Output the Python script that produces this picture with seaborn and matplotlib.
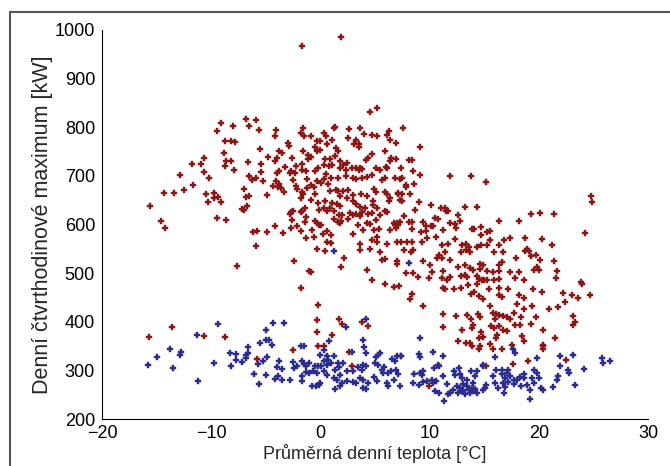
import matplotlib
matplotlib.use("Agg")
import matplotlib.pyplot as plt
from matplotlib.lines import Line2D
import pandas as pd
import seaborn as sns

# red group: (mean daily temperature [°C], daily quarter-hour maximum [kW])
red_left = [
    (-15.6, 638), (-14.6, 607), (-14.2, 593), (-14.3, 664), (-13.4, 664), (-12.5, 671), (-12.9, 702),
    (-11.7, 682), (-11.8, 724), (-10.7, 737), (-10.9, 724), (-10.7, 708), (-10.2, 696), (-10.5, 662),
    (-10.3, 646), (-9.7, 664), (-9.4, 656), (-9.7, 655), (-9.1, 646), (-9.5, 613), (-8.6, 609),
    (-9.5, 792), (-9.1, 808), (-8.0, 803), (-8.8, 747), (-8.7, 772), (-8.2, 772), (-7.8, 770),
    (-8.6, 730), (-8.2, 730), (-8.7, 721), (-7.9, 713), (-7.6, 515), (-6.8, 817), (-6.5, 803),
    (-5.9, 815), (-5.6, 795), (-6.6, 729), (-5.5, 755), (-5.4, 725), (-6.5, 699), (-6.3, 692),
    (-5.9, 696), (-5.4, 708), (-5.3, 690), (-7.0, 674), (-6.8, 657), (-6.5, 659), (-7.2, 632),
    (-7.0, 630), (-6.7, 638), (-6.2, 585), (-5.8, 587), (-5.9, 556), (-4.9, 585), (-4.2, 597),
    (-3.4, 583), (-4.9, 661), (-4.2, 783), (-4.1, 795), (-3.0, 768), (-2.9, 761), (-3.8, 751),
    (-3.5, 748), (-4.0, 736), (-4.2, 730), (-4.8, 739), (-2.6, 737), (-3.2, 719), (-4.0, 706),
    (-3.8, 710), (-2.8, 706), (-2.7, 710), (-2.3, 706), (-1.7, 713), (-2.2, 721), (-1.7, 724),
    (-1.6, 799), (-1.8, 788), (-1.5, 783), (-1.6, 751), (-1.1, 742), (-1.1, 734), (-1.3, 710),
    (-4.1, 689), (-4.3, 679), (-3.9, 677), (-3.6, 675), (-3.8, 684), (-3.3, 667), (-2.5, 692),
    (-2.2, 679), (-2.1, 672), (-1.7, 667), (-1.6, 662), (-1.8, 654), (-1.2, 693), (-1.2, 675),
    (-2.7, 626), (-2.8, 621), (-2.5, 628), (-1.8, 626), (-1.7, 628), (-1.4, 634), (-1.3, 616),
    (-1.4, 605), (-2.6, 609), (-2.7, 593), (-2.1, 596), (-1.8, 586), (-1.3, 573), (-1.8, 470),
    (-2.4, 524), (-1.0, 504), (-1.7, 968),
    (-15.7, 369), (-13.6, 389), (-10.7, 371), (-8.7, 369), (-5.8, 324), (-2.5, 341),
    (-0.2, 350), (-0.3, 379), (-0.3, 403), (-0.2, 434),
]
red_core = [
    (1.9, 986), (4.5, 831), (5.2, 839), (-0.9, 781), (0.3, 788), (0.5, 781), (1.2, 799), (1.3, 801),
    (2.6, 796), (3.6, 798), (4.0, 786), (4.7, 785), (5.2, 783), (6.1, 784), (6.3, 792), (6.4, 774),
    (6.9, 768), (-0.3, 771), (0.0, 772), (-0.5, 759), (-0.3, 751), (0.0, 753), (0.6, 765), (1.1, 773),
    (1.4, 757), (1.6, 752), (2.5, 777), (3.3, 774), (3.5, 765), (3.5, 759), (3.1, 765), (5.9, 752),
    (-0.9, 739), (0.4, 735), (0.9, 734), (1.3, 741), (0.8, 720), (1.1, 723), (0.3, 723), (-0.2, 717),
    (-0.5, 710), (1.8, 730), (2.1, 723), (2.4, 727), (1.8, 717), (2.3, 713), (2.9, 716), (3.3, 717),
    (3.6, 717), (3.8, 715), (3.5, 713), (4.2, 733), (4.4, 736), (4.7, 745), (5.1, 717), (4.3, 697),
    (3.8, 696), (3.3, 694), (3.0, 696), (2.3, 699), (1.6, 696), (1.0, 696), (0.5, 703), (0.3, 693),
    (-0.3, 689), (0.1, 686), (-0.9, 682), (4.7, 702), (5.6, 692), (5.9, 695), (5.5, 713), (6.0, 719),
    (6.1, 717), (6.5, 737), (6.9, 735), (6.4, 730), (6.8, 696), (7.3, 693), (-0.6, 677), (0.7, 684),
    (0.9, 668), (1.4, 670), (1.6, 668), (2.1, 668), (2.5, 670), (1.8, 658), (2.4, 655), (3.0, 660),
    (3.7, 662), (4.3, 659), (4.9, 672), (5.1, 667), (5.9, 667), (6.1, 662), (6.4, 655), (7.1, 665),
    (7.1, 662), (7.3, 651), (-0.5, 662), (-0.9, 651), (-0.2, 644), (0.4, 648), (1.1, 644), (1.5, 642),
    (1.8, 639), (3.0, 648), (3.3, 642), (3.6, 637), (4.1, 634), (4.8, 649), (4.8, 641), (5.2, 633),
    (5.9, 627), (6.1, 625), (6.3, 648), (-0.1, 630), (0.3, 633), (0.6, 627), (0.9, 633), (1.2, 628),
    (1.7, 620), (2.0, 620), (2.7, 624), (3.0, 620), (3.3, 622), (3.6, 617), (3.8, 626), (4.4, 622),
    (4.7, 624), (5.5, 620), (-0.5, 608), (-0.3, 603), (-0.1, 598), (0.1, 600), (1.2, 612), (1.6, 606),
    (1.8, 603), (1.9, 608), (2.5, 611), (3.4, 600), (4.3, 603), (4.5, 601), (5.1, 610), (6.7, 603),
    (6.8, 598), (7.0, 603), (7.1, 600), (6.9, 593), (7.3, 606), (-0.8, 588), (0.2, 580), (0.6, 586),
    (1.0, 578), (3.0, 581), (3.9, 588), (4.9, 588), (5.4, 590), (6.4, 588), (-0.6, 574), (0.6, 565),
    (1.0, 561), (4.7, 568), (5.2, 574), (5.2, 564), (3.6, 559), (6.1, 559), (7.0, 564), (-0.3, 549),
    (0.4, 545), (3.6, 547), (4.5, 549), (5.5, 544), (2.2, 532), (5.6, 528), (5.9, 530), (7.0, 524),
    (7.0, 519), (-0.9, 503), (1.9, 512), (4.3, 507), (4.7, 485), (5.9, 477), (6.7, 471), (7.2, 473),
    (7.6, 799), (9.1, 760),
    (1.7, 405), (2.0, 396), (3.8, 400), (4.4, 391), (1.1, 372), (0.3, 350), (2.6, 337), (2.9, 310),
]
red_right = [
    (8.1, 732), (8.4, 732), (7.4, 717), (8.5, 711), (9.1, 702), (11.9, 699), (13.8, 699), (15.2, 688),
    (7.5, 696), (7.8, 682), (7.8, 677), (8.6, 684), (7.5, 663), (8.2, 662), (7.5, 649), (9.0, 646),
    (10.1, 640), (11.0, 633), (11.4, 634), (11.5, 627), (11.7, 627), (12.6, 620), (13.2, 637), (14.3, 637),
    (8.7, 629), (7.7, 618), (8.1, 606), (8.4, 606), (9.4, 606), (10.5, 613), (10.3, 597), (10.8, 612),
    (11.9, 603), (12.3, 601), (12.8, 607), (9.7, 597), (10.1, 597), (8.4, 590), (9.2, 585), (9.7, 587),
    (11.2, 588), (12.4, 592), (13.9, 590), (14.1, 590), (14.7, 595), (14.7, 578), (15.3, 585), (15.5, 587),
    (16.4, 608), (18.2, 608), (19.3, 622), (20.1, 624), (21.4, 622), (24.2, 583), (24.8, 659), (24.9, 646),
    (7.4, 564), (7.9, 564), (8.4, 565), (9.3, 565), (7.7, 548), (8.3, 544), (8.5, 547), (9.8, 572),
    (10.6, 574), (11.1, 557), (11.7, 559), (12.3, 570), (13.0, 557), (13.3, 560), (13.6, 554), (14.3, 554),
    (14.7, 557), (12.9, 543), (13.3, 547), (13.7, 544), (15.5, 568), (15.3, 557), (15.9, 543), (16.4, 557),
    (16.7, 543), (16.8, 568), (17.4, 572), (18.7, 572), (18.9, 550), (18.7, 545), (19.1, 545), (19.3, 535),
    (19.7, 537), (20.1, 526), (20.3, 570), (21.2, 557), (21.4, 524), (17.9, 531), (10.9, 537), (11.1, 531),
    (10.7, 531), (11.4, 544), (11.9, 526), (12.6, 512), (13.2, 516), (13.7, 510), (14.0, 506), (14.6, 519),
    (14.6, 509), (14.9, 516), (15.3, 504), (15.8, 502), (16.4, 504), (16.6, 523), (16.4, 516), (17.4, 502),
    (17.8, 490), (18.2, 502), (18.6, 485), (19.6, 506), (19.8, 512), (20.0, 506), (21.7, 504), (21.6, 490),
    (7.8, 500), (8.5, 501), (8.9, 493), (9.9, 490), (10.0, 516), (9.4, 524), (10.2, 502), (11.2, 504),
    (11.9, 492), (11.6, 485), (11.1, 490), (13.2, 497), (13.4, 492), (12.9, 495), (14.3, 495), (14.5, 488),
    (14.3, 478), (14.8, 486), (15.0, 485), (15.3, 486), (15.9, 485), (16.4, 488), (11.2, 469), (11.4, 468),
    (12.2, 468), (12.9, 469), (13.5, 476), (13.8, 457), (14.1, 461), (14.5, 452), (14.9, 446), (15.4, 468),
    (16.4, 469), (16.4, 454), (17.2, 468), (18.2, 454), (18.6, 448), (19.5, 468), (20.3, 462), (22.2, 459),
    (23.0, 455), (23.6, 449), (23.9, 481), (24.0, 478), (24.7, 454), (8.4, 457), (8.2, 447), (9.4, 433),
    (11.2, 415), (11.2, 390), (12.4, 411), (13.0, 383), (13.4, 413), (13.8, 406), (14.0, 394), (13.9, 388),
    (14.4, 415), (14.6, 409), (14.7, 379), (14.5, 367), (14.9, 368), (15.5, 432), (15.8, 419), (16.1, 416),
    (16.4, 413), (16.7, 411), (17.1, 409), (17.4, 406), (16.0, 406), (15.6, 391), (15.9, 388), (16.4, 391),
    (16.7, 384), (17.1, 381), (16.2, 372), (16.1, 367), (16.6, 450), (17.7, 419), (18.0, 437), (17.8, 394),
    (18.3, 394), (18.4, 409), (18.6, 426), (19.4, 433), (19.3, 396), (19.7, 410), (20.4, 384), (20.9, 426),
    (21.5, 367), (21.8, 430), (22.4, 440), (23.1, 411), (23.3, 399), (23.1, 394), (12.6, 361), (13.3, 357),
    (13.7, 357), (13.9, 350), (14.6, 351), (14.5, 343), (15.5, 355), (15.8, 343), (16.6, 343), (17.5, 353),
    (18.5, 370), (18.6, 360), (20.4, 350), (20.4, 353), (20.4, 343),
    (9.9, 268), (15.2, 308), (17.6, 314), (19.0, 319), (22.5, 321),
]

# blue group
blue_left = [
    (-15.8, 312), (-15.0, 328), (-13.8, 344), (-13.5, 304), (-12.9, 331), (-12.8, 337), (-11.3, 372),
    (-11.2, 279), (-9.7, 316), (-9.4, 396), (-8.3, 336), (-7.7, 334), (-8.2, 310), (-7.7, 321),
    (-7.2, 317), (-6.8, 331), (-6.6, 336), (-6.6, 349), (-6.8, 325), (-5.7, 314), (-5.3, 320),
    (-5.5, 356), (-5.0, 362), (-4.7, 363), (-4.4, 352), (-4.9, 327), (-5.0, 383), (-4.3, 398),
    (-3.3, 398), (-6.1, 293), (-5.6, 272), (-5.0, 291), (-4.0, 307), (-3.8, 320), (-3.5, 303),
    (-3.9, 288), (-4.2, 282), (-3.5, 281), (-2.8, 281), (-2.5, 317), (-2.4, 305), (-2.1, 308),
    (-1.8, 350), (-1.5, 351), (-1.7, 319), (-1.5, 314), (-1.3, 308), (-1.0, 315), (-1.7, 288),
    (-1.7, 279), (-0.8, 267), (-0.4, 267), (-0.1, 270), (-1.3, 296), (-1.0, 294), (-0.7, 298),
    (-0.5, 308), (-0.3, 294), (-0.2, 308),
    (1.2, 545), (4.2, 405), (2.3, 389), (0.8, 361), (3.9, 363), (0.3, 341), (4.0, 348), (2.9, 337),
    (4.2, 336), (0.0, 332), (1.2, 330), (0.6, 329), (5.5, 336), (5.3, 331), (5.1, 327), (7.0, 329),
    (6.6, 323), (6.8, 319), (0.3, 319), (0.7, 322), (0.1, 308), (0.6, 312), (1.0, 315), (1.6, 315),
    (1.7, 307), (2.1, 315), (3.4, 307), (2.4, 298), (3.0, 298), (3.9, 312), (4.2, 310), (3.8, 301),
    (5.0, 315), (5.3, 312), (5.8, 306), (5.6, 301), (6.2, 294), (6.5, 298), (6.9, 301), (7.4, 329),
    (7.1, 292), (0.6, 291), (0.0, 274), (1.3, 301), (0.3, 298), (1.8, 291), (1.5, 281), (2.0, 275),
    (1.3, 261), (1.8, 267), (2.4, 279), (3.0, 277), (3.3, 274), (3.9, 281), (4.4, 274), (3.9, 263),
    (4.2, 261), (4.9, 286), (5.2, 279), (5.7, 294), (6.1, 274), (6.2, 267), (6.7, 281), (7.3, 267),
    (1.2, 284), (3.6, 284),
]
blue_right = [
    (8.1, 521), (9.1, 366), (9.0, 334), (9.1, 327), (10.3, 337), (11.2, 330), (10.8, 312), (10.9, 308),
    (10.4, 305), (8.6, 293), (9.1, 294), (9.4, 298), (9.3, 291), (8.5, 274), (9.0, 270), (9.4, 277),
    (9.8, 279), (10.2, 281), (10.3, 274), (10.6, 279), (10.5, 257), (10.9, 253), (11.3, 238), (11.2, 288),
    (11.6, 272), (11.7, 252), (12.1, 260), (12.3, 291), (12.2, 298), (12.7, 305), (12.8, 292), (13.0, 284),
    (13.1, 272), (13.4, 281), (13.4, 267), (13.6, 259), (12.9, 257), (12.6, 254), (13.2, 252), (13.9, 263),
    (14.0, 274), (14.2, 288), (14.0, 257), (14.3, 253), (13.8, 298), (14.3, 298), (14.9, 310), (15.1, 263),
    (14.9, 259), (15.2, 270), (16.0, 274), (15.8, 289), (16.1, 301), (16.6, 293), (16.6, 301), (16.9, 284),
    (16.7, 274), (16.9, 265), (16.3, 263), (16.8, 254), (17.2, 277), (17.4, 289), (17.7, 281), (17.7, 272),
    (18.0, 281), (18.3, 286), (18.6, 293), (18.4, 267), (18.9, 270), (19.6, 301), (19.8, 294), (20.0, 284),
    (20.2, 263), (20.4, 259), (19.6, 274), (19.2, 241), (21.8, 288), (21.9, 308), (22.7, 301), (22.8, 294),
    (23.3, 270), (24.1, 303), (21.9, 329), (23.1, 332), (19.8, 325), (17.6, 343), (17.8, 336), (16.0, 328),
    (17.2, 301), (17.1, 294), (18.6, 284), (19.4, 284), (19.2, 259), (21.3, 266), (21.7, 281), (12.8, 263),
    (13.1, 259), (13.7, 254), (14.2, 261), (12.5, 267), (11.9, 253), (14.9, 312), (7.4, 329),
    (25.8, 325), (25.9, 315), (26.5, 320),
]

red = pd.DataFrame(red_left + red_core + red_right, columns=["t", "p"])
blue = pd.DataFrame(blue_left + blue_right, columns=["t", "p"])

sns.set_theme(style="white")
plt.rcParams['font.family'] = ['Liberation Sans', 'DejaVu Sans']

fig = plt.figure(figsize=(6.7, 4.66), dpi=100)
ax = fig.add_axes([102 / 670, 1 - 419 / 466, 546 / 670, 389 / 466])

sns.scatterplot(data=red, x="t", y="p", color="#8a1616", marker="P", s=20,
                edgecolor="#8a1616", linewidth=0.3, ax=ax)
sns.scatterplot(data=blue, x="t", y="p", color="#2c2c8c", marker="P", s=20,
                edgecolor="#2c2c8c", linewidth=0.3, ax=ax)

ax.set_xlim(-20, 30)
ax.set_ylim(200, 1000)
ax.set_xticks([-20, -10, 0, 10, 20, 30])
ax.set_yticks(range(200, 1001, 100))
ax.spines['top'].set_visible(False)
ax.spines['right'].set_visible(False)
for s in ['left', 'bottom']:
    ax.spines[s].set_color('black')
    ax.spines[s].set_linewidth(0.8)
ax.tick_params(direction='in', length=4, width=0.8, colors='black', labelsize=13)
ax.tick_params(axis='x', pad=4)
ax.tick_params(axis='y', pad=5)
ax.set_xlabel("Průměrná denní teplota [°C]", fontsize=13, labelpad=2)
ax.set_ylabel("Denní čtvrthodinové maximum [kW]", fontsize=15.5, labelpad=1)

# outer frame (partially visible in the reference)
fig.add_artist(Line2D([10 / 670, 10 / 670], [0, 1 - 12 / 466], color="#555555", lw=1.5))
fig.add_artist(Line2D([10 / 670, 1], [1 - 12 / 466, 1 - 12 / 466], color="#555555", lw=1.5))

fig.savefig("out.png", dpi=100)
